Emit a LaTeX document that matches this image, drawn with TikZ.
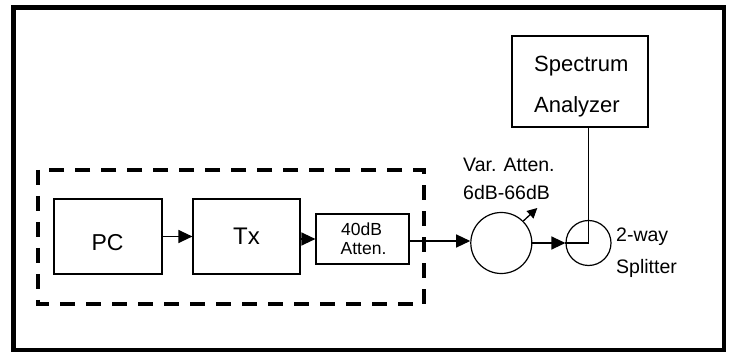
\documentclass[tikz,border=0pt]{standalone}
\usepackage{fontspec}
\setmainfont{Liberation Sans}
\usetikzlibrary{arrows.meta}
\begin{document}
\begin{tikzpicture}[x=1pt,y=-1pt,
  box/.style={draw, line width=1.2pt, inner sep=0pt},
  ring/.style={draw, circle, line width=1.2pt, inner sep=0pt},
  arr/.style={line width=1.3pt, -{Triangle[length=14pt,width=13pt]}},
  arrsmall/.style={line width=1.3pt, -{Triangle[length=10pt,width=10pt]}},
  wire/.style={line width=1.3pt},
  lbl/.style={inner sep=0pt, anchor=base west, font=\fontsize{19.5}{19.5}\selectfont}
]
\useasboundingbox (0,0) rectangle (730,352);
% outer frame
\draw[line width=4.5pt] (13.3,7.5) rectangle (724,350);
% dashed enclosure
\draw[line width=3.2pt, dash pattern=on 15pt off 11pt] (38,170) rectangle (424,304);
% blocks
\node[box, minimum width=108, minimum height=75] (pc) at (108,236.5) {};
\node[inner sep=0pt, anchor=base, font=\fontsize{23}{23}\selectfont] (pct) at (107.5,251) {PC};
\node[box, minimum width=107, minimum height=75, font=\fontsize{24}{24}\selectfont] (tx) at (246.5,236.5) {Tx};
\node[box, minimum width=93, minimum height=50] (att) at (362.5,239) {};
\node[inner sep=0pt, anchor=base, font=\fontsize{17.5}{17.5}\selectfont] (att1) at (361.5,235.3) {40dB};
\node[inner sep=0pt, anchor=base, font=\fontsize{17.5}{17.5}\selectfont] (att2) at (363.5,254.8) {Atten.};
\node[ring, minimum size=61] (c1) at (501.3,243) {};
\node[ring, minimum size=45] (c2) at (588.5,243) {};
\node[box, minimum width=136, minimum height=91] (sa) at (580,81.5) {};
% labels
\node[lbl, font=\fontsize{22}{22}\selectfont] (sa1) at (534,71.7) {Spectrum};
\node[lbl, font=\fontsize{22}{22}\selectfont] (sa2) at (534,112.3) {Analyzer};
\node[lbl] (va1) at (463,171.7) {Var. Atten.};
\node[lbl] (va2) at (463,200) {6dB-66dB};
\node[lbl] (sp1) at (616,241.7) {2-way};
\node[lbl] (sp2) at (616,273.3) {Splitter};
% connectors
\draw[arr] (pc.east) -- (tx.west);
\draw[arr] (tx.east |- att.west) -- (att.west);
\draw[arr] (att.east |- 0,241) -- (c1.west |- 0,241);
\draw[arr] (c1.east) -- (c2.west);
\draw[wire] (c2.west) -- (c2.center);
\draw[wire] (c2.center |- sa.south) -- (c2.center);
\draw[arrsmall] (c1.45) -- ++(14,-13);
\end{tikzpicture}
\end{document}
